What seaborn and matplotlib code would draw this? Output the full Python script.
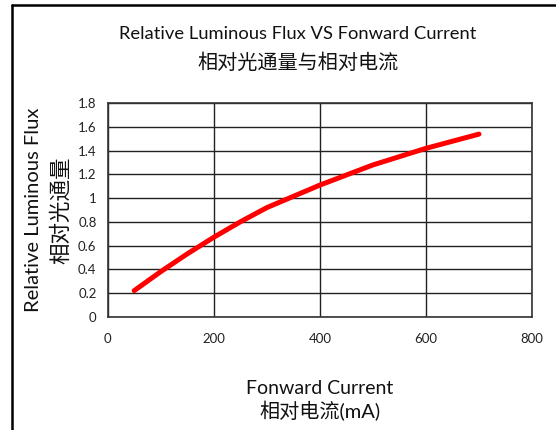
import matplotlib
matplotlib.use("Agg")
import matplotlib.pyplot as plt
import seaborn as sns
import pandas as pd
from matplotlib.lines import Line2D

current_ma = [50, 100, 150, 200, 250, 300, 400, 500, 600, 700]
rel_flux = [0.22, 0.38, 0.53, 0.67, 0.80, 0.92, 1.11, 1.28, 1.42, 1.54]
x_ticks = [0, 200, 400, 600, 800]
y_ticks = [0, 0.2, 0.4, 0.6, 0.8, 1, 1.2, 1.4, 1.6, 1.8]
y_tick_labels = ["0", "0.2", "0.4", "0.6", "0.8", "1", "1.2", "1.4", "1.6", "1.8"]

sns.set_theme(style="white")
plt.rcParams['font.family'] = ['Lato', 'Noto Sans CJK SC', 'DejaVu Sans']

fig = plt.figure(figsize=(5.56, 4.30), dpi=100)
ax = fig.add_axes([107.7/556, 1-316.7/430, (532-107.7)/556, (316.7-103.3)/430])

df = pd.DataFrame({"current": current_ma, "flux": rel_flux})
sns.lineplot(data=df, x="current", y="flux", ax=ax, color="#ff0000",
             linewidth=3.6, solid_capstyle="round", solid_joinstyle="round")

ax.set_xlim(0, 800)
ax.set_ylim(0, 1.8)
ax.set_xticks(x_ticks)
ax.set_xticklabels([str(t) for t in x_ticks])
ax.set_yticks(y_ticks)
ax.set_yticklabels(y_tick_labels)
ax.grid(True, color="#222222", linewidth=1.0)
ax.set_axisbelow(True)
for s in ax.spines.values():
    s.set_color("#333333")
    s.set_linewidth(1.2)
ax.tick_params(axis="both", labelsize=9.5, colors="#222222", length=0)
ax.tick_params(axis="x", pad=12)
ax.tick_params(axis="y", pad=8)
ax.set_xlabel("")
ax.set_ylabel("")

fig.text(298/556, 1-34/430, "Relative Luminous Flux VS Fonward Current",
         ha="center", va="center", fontsize=13.2, color="#111111")
fig.text(298/556, 1-62/430, "相对光通量与相对电流",
         ha="center", va="center", fontsize=14.5, color="#111111")
fig.text(320/556, 1-388/430, "Fonward Current",
         ha="center", va="center", fontsize=14, color="#111111")
fig.text(320/556, 1-411/430, "相对电流(mA)",
         ha="center", va="center", fontsize=14.5, color="#111111")
fig.text(34/556, 1-210/430, "Relative Luminous Flux",
         ha="center", va="center", rotation=90, fontsize=14.5, color="#111111")
fig.text(61/556, 1-210/430, "相对光通量",
         ha="center", va="center", rotation=90, fontsize=15.5, color="#111111")

fig.add_artist(Line2D([12/556, 12/556], [0, 1-5/430], transform=fig.transFigure,
                      color="black", linewidth=1.8))
fig.add_artist(Line2D([12/556, 1], [1-5/430, 1-5/430], transform=fig.transFigure,
                      color="black", linewidth=1.8))

fig.savefig("out.png", dpi=100, facecolor="white")
